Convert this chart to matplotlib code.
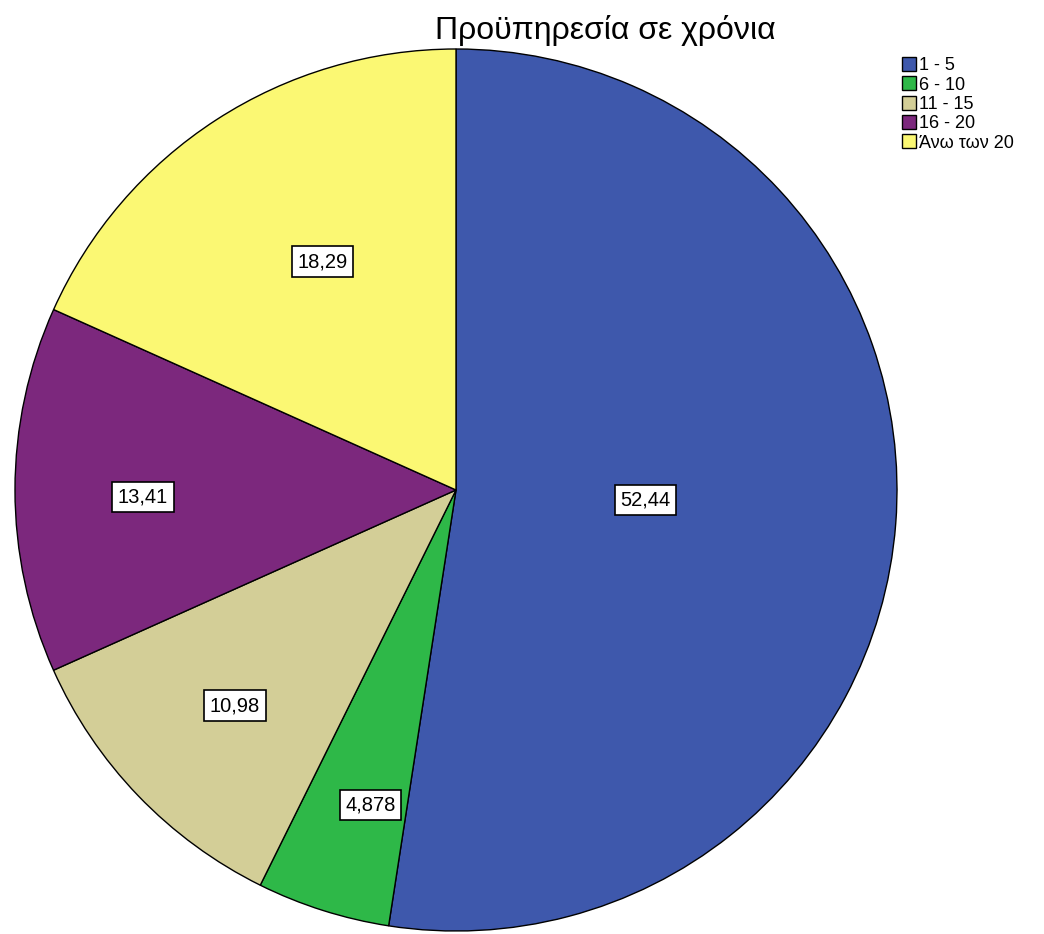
import numpy as np
import matplotlib.pyplot as plt

plt.rcParams['font.family'] = ['Liberation Sans', 'DejaVu Sans']

# Δεδομένα
categories = ['1 - 5', '6 - 10', '11 - 15', '16 - 20', 'Άνω των 20']
values = [52.44, 4.878, 10.98, 13.41, 18.29]
value_labels = ['52,44', '4,878', '10,98', '13,41', '18,29']
colors = ['#3E58AC', '#2EB848', '#D3CE97', '#7C287D', '#FBF873']
label_radius = [0.43, 0.74, 0.70, 0.71, 0.60]
label_shift = [1.4, 2.4, 0.4, 1.3, -2.6]  # μετατόπιση γωνίας (μοίρες)

W, H = 1044, 934
fig = plt.figure(figsize=(W / 100, H / 100), dpi=100)
cx, cy, r = 456, 490, 441
ax = fig.add_axes([(cx - r) / W, (H - cy - r) / H, 2 * r / W, 2 * r / H])

wedges, _ = ax.pie(values, colors=colors, startangle=90, counterclock=False,
                   radius=1, wedgeprops=dict(edgecolor='black', linewidth=1))
ax.set_xlim(-1, 1)
ax.set_ylim(-1, 1)
ax.set_aspect('equal')
ax.axis('off')

# Ετικέτες τιμών
for w, lab, rf, sh in zip(wedges, value_labels, label_radius, label_shift):
    ang = np.deg2rad((w.theta1 + w.theta2) / 2 + sh)
    ax.text(rf * np.cos(ang), rf * np.sin(ang), lab, ha='center', va='center',
            fontsize=14.5, bbox=dict(boxstyle='square,pad=0.28', fc='white',
                                     ec='black', lw=1.2))

fig.text(605 / W, 1 - 30 / H, 'Προϋπηρεσία σε χρόνια', ha='center',
         va='center', fontsize=23)

fig.legend(wedges, categories, loc='upper left',
           bbox_to_anchor=(902 / W, 1 - 57 / H), frameon=False,
           fontsize=13, handlelength=0.8, handleheight=0.8,
           handletextpad=0.15, labelspacing=0.12, borderpad=0, borderaxespad=0)

fig.savefig('out.png', dpi=100)
